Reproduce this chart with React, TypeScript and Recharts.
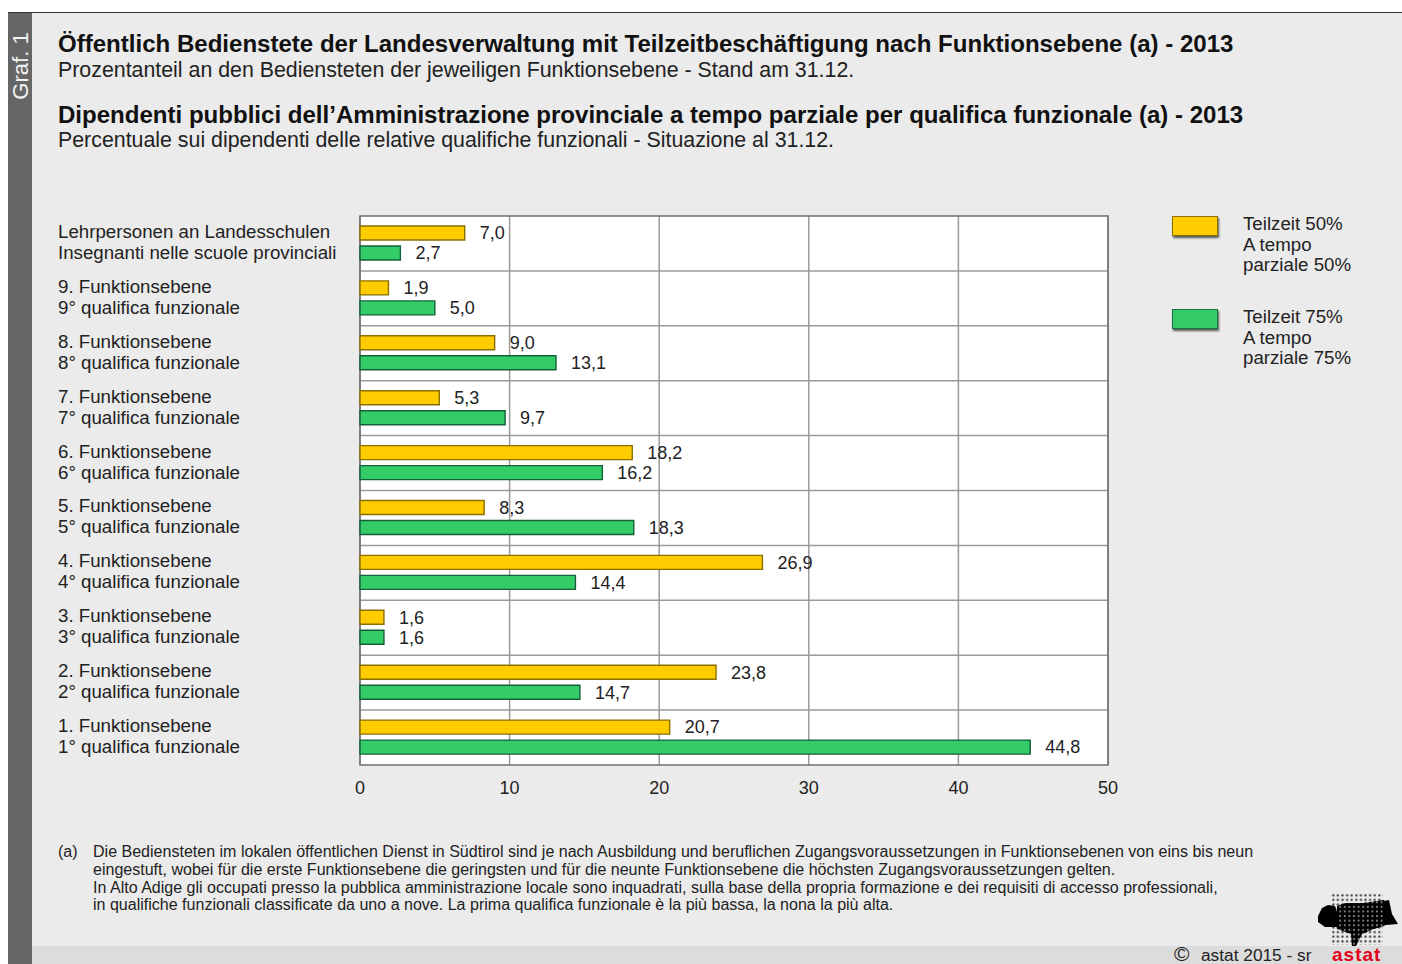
import React from 'react';
import { BarChart, Bar, XAxis, YAxis, CartesianGrid, LabelList, usePlotArea } from 'recharts';

const categoriesDe = ['Lehrpersonen an Landesschulen', '9. Funktionsebene', '8. Funktionsebene', '7. Funktionsebene', '6. Funktionsebene', '5. Funktionsebene', '4. Funktionsebene', '3. Funktionsebene', '2. Funktionsebene', '1. Funktionsebene'];
const categoriesIt = ['Insegnanti nelle scuole provinciali', '9° qualifica funzionale', '8° qualifica funzionale', '7° qualifica funzionale', '6° qualifica funzionale', '5° qualifica funzionale', '4° qualifica funzionale', '3° qualifica funzionale', '2° qualifica funzionale', '1° qualifica funzionale'];
const teilzeit50 = [7.0, 1.9, 9.0, 5.3, 18.2, 8.3, 26.9, 1.6, 23.8, 20.7];
const teilzeit75 = [2.7, 5.0, 13.1, 9.7, 16.2, 18.3, 14.4, 1.6, 14.7, 44.8];
const xTicks = [0, 10, 20, 30, 40, 50];
const legend50 = ['Teilzeit 50%', 'A tempo', 'parziale 50%'];
const legend75 = ['Teilzeit 75%', 'A tempo', 'parziale 75%'];
const footnote = [
  'Die Bediensteten im lokalen öffentlichen Dienst in Südtirol sind je nach Ausbildung und beruflichen Zugangsvoraussetzungen in Funktionsebenen von eins bis neun',
  'eingestuft, wobei für die erste Funktionsebene die geringsten und für die neunte Funktionsebene die höchsten Zugangsvoraussetzungen gelten.',
  'In Alto Adige gli occupati presso la pubblica amministrazione locale sono inquadrati, sulla base della propria formazione e dei requisiti di accesso professionali,',
  'in qualifiche funzionali classificate da uno a nove. La prima qualifica funzionale è la più bassa, la nona la più alta.',
];

const data = categoriesDe.map((de, i) => ({ de, it: categoriesIt[i], a: teilzeit50[i], b: teilzeit75[i] }));

const FONT = '"Liberation Sans", Arial, sans-serif';
const YELLOW = '#FFCC00';
const GREEN = '#33CC66';
const TEXT = '#222222';
const fmt = (v: number) => v.toFixed(1).replace('.', ',');

const abs = (left: number, top: number, size: number, extra: React.CSSProperties = {}): React.CSSProperties => ({
  position: 'absolute', left, top, fontSize: size, fontFamily: FONT, color: TEXT, whiteSpace: 'nowrap', lineHeight: 1, ...extra,
});

function CategoryTick({ y, payload }: any) {
  const row = data.find((d) => d.de === payload.value);
  return (
    <text x={58} y={y} fontFamily={FONT} fontSize={18.7} fill={TEXT}>
      <tspan x={58} dy={-5.5}>{payload.value}</tspan>
      <tspan x={58} dy={21}>{row ? row.it : ''}</tspan>
    </text>
  );
}

function PlotBorder() {
  const p = usePlotArea();
  if (!p) return null;
  return <rect x={p.x} y={p.y} width={p.width} height={p.height} fill="none" stroke="#6f6f6f" strokeWidth={1.5} />;
}

function LegendItem({ top, color, edge, lines }: { top: number; color: string; edge: string; lines: string[] }) {
  return (
    <>
      <div style={{ position: 'absolute', left: 1172, top, width: 44, height: 18, background: color, border: `1px solid ${edge}`, boxShadow: '1px 2px 2px #555' }} />
      <div style={abs(1243, top - 2, 18.7, { lineHeight: '20.7px' })}>
        {lines.map((l) => <div key={l}>{l}</div>)}
      </div>
    </>
  );
}

function Logo() {
  return (
    <svg style={{ position: 'absolute', left: 1310, top: 885 }} width={92} height={62} viewBox="1310 885 92 62">
      <defs>
        <pattern id="dots" x={1331} y={893} width={4.6} height={4.6} patternUnits="userSpaceOnUse">
          <circle cx={2.3} cy={2.3} r={1.1} fill="#333" />
        </pattern>
        <pattern id="dotsBig" x={1331} y={893} width={4.6} height={4.6} patternUnits="userSpaceOnUse">
          <circle cx={2.3} cy={2.3} r={2.5} fill="#000" />
        </pattern>
      </defs>
      <rect x={1331} y={893} width={52} height={52} fill="url(#dots)" />
      <path d="M1318 916 L1322 908 L1328 905 L1335 906 L1337 912 L1337 927 L1325 927 L1318 922 Z" fill="#000" />
      <path d="M1383 901 L1389 900 L1392 914 L1398 924 L1386 925 L1383 926 Z" fill="#000" />
      <path d="M1337 906 L1345 903 L1362 903 L1384 900 L1384 926 L1374 929 L1362 934 L1356 946 L1352 946 L1351 934 L1337 929 Z" fill="url(#dotsBig)" />
    </svg>
  );
}

export default function App() {
  return (
    <div style={{ position: 'absolute', left: 0, top: 0, width: 1402, height: 964, overflow: 'hidden', background: '#fff' }}>
      <div style={{ position: 'absolute', left: 8, top: 12, width: 1394, height: 952, background: '#ebebeb', borderTop: '1px solid #333', boxSizing: 'border-box' }} />
      <div style={{ position: 'absolute', left: 8, top: 13, width: 24, height: 951, background: '#666' }} />
      <div style={{ position: 'absolute', left: 32, top: 946, width: 1370, height: 18, background: '#dcdcdc' }} />
      <div style={abs(20.5, 66, 22, { color: '#f2f2f2', transform: 'translate(-50%,-50%) rotate(-90deg)' })}>Graf. 1</div>

      <div style={abs(58, 32, 24.05, { fontWeight: 700, color: '#111' })}>Öffentlich Bedienstete der Landesverwaltung mit Teilzeitbeschäftigung nach Funktionsebene (a) - 2013</div>
      <div style={abs(58, 60, 21.35)}>Prozentanteil an den Bediensteten der jeweiligen Funktionsebene - Stand am 31.12.</div>
      <div style={abs(58, 103, 24.05, { fontWeight: 700, color: '#111' })}>Dipendenti pubblici dell’Amministrazione provinciale a tempo parziale per qualifica funzionale (a) - 2013</div>
      <div style={abs(58, 130, 21.35)}>Percentuale sui dipendenti delle relative qualifiche funzionali - Situazione al 31.12.</div>

      <div style={{ position: 'absolute', left: 0, top: 0 }}>
        <BarChart
          width={1402}
          height={964}
          layout="vertical"
          data={data}
          barSize={14}
          barGap={6}
          margin={{ top: 216, right: 294, bottom: 159, left: 0 }}
        >
          <CartesianGrid
            fill="#ffffff"
            stroke="#9a9a9a"
            strokeWidth={1.5}
            horizontalCoordinatesGenerator={({ offset }: any) =>
              data.slice(1).map((_, i) => offset.top + (offset.height * (i + 1)) / data.length)
            }
          />
          <XAxis
            type="number"
            domain={[0, 50]}
            ticks={xTicks}
            height={40}
            axisLine={false}
            tickLine={false}
            tickMargin={10}
            tick={{ fontFamily: FONT, fontSize: 18, fill: TEXT }}
          />
          <YAxis type="category" dataKey="de" width={360} axisLine={false} tickLine={false} interval={0} tick={<CategoryTick />} />
          <Bar dataKey="a" fill={YELLOW} stroke="#8a6f00" strokeWidth={1.4} isAnimationActive={false}>
            <LabelList dataKey="a" position="right" offset={15} formatter={fmt as any} fontFamily={FONT} fontSize={18} fill={TEXT} />
          </Bar>
          <Bar dataKey="b" fill={GREEN} stroke="#14603a" strokeWidth={1.4} isAnimationActive={false}>
            <LabelList dataKey="b" position="right" offset={15} formatter={fmt as any} fontFamily={FONT} fontSize={18} fill={TEXT} />
          </Bar>
          <PlotBorder />
        </BarChart>
      </div>

      <LegendItem top={216} color={YELLOW} edge="#8a7000" lines={legend50} />
      <LegendItem top={309} color={GREEN} edge="#1c7040" lines={legend75} />

      <div style={abs(58, 844, 16)}>(a)</div>
      <div style={abs(93, 843, 16.04, { lineHeight: '17.8px' })}>
        {footnote.map((l) => <div key={l}>{l}</div>)}
      </div>

      <div style={abs(1174, 943, 21)}>©</div>
      <div style={abs(1201, 946.5, 17.3)}>astat 2015 - sr</div>
      <div style={abs(1332, 945, 19, { color: '#e3001b', fontWeight: 700, letterSpacing: 1 })}>astat</div>
      <Logo />
    </div>
  );
}
